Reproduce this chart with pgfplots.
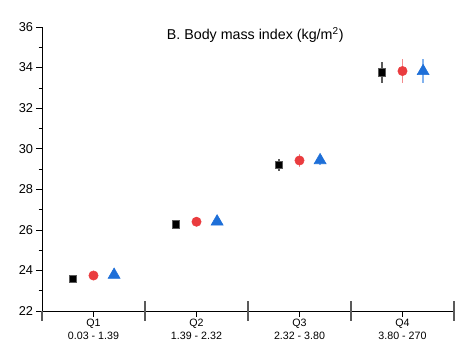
\documentclass[border=0pt]{standalone}
\usepackage{fontspec}
\setmainfont{Liberation Sans}
\usepackage{pgfplots}
\pgfplotsset{compat=1.18}
\definecolor{cred}{HTML}{EA3C3F}
\definecolor{cblue}{HTML}{1E6FD8}
\definecolor{credlt}{HTML}{F48A8C}
\definecolor{cbluelt}{HTML}{82B2EE}
\definecolor{cgray}{HTML}{5A5A5A}
\begin{document}
\begin{tikzpicture}[x=1pt,y=1pt]
\path[use as bounding box] (-31.5,-30) rectangle (318.75,233.25);
\begin{axis}[
  at={(0,0)}, anchor=south west,
  scale only axis, width=309pt, height=213pt,
  xmin=0.5, xmax=4.5, ymin=22, ymax=36,
  axis x line*=bottom, axis y line*=left,
  axis line style={black, line width=0.6pt},
  clip=false,
  /pgf/number format/assume math mode=true,
  ytick={22,24,...,36}, minor ytick={23,25,...,35},
  yticklabel style={font=\fontsize{9.6}{11}\selectfont, xshift=1pt},
  xtick={1,2,3,4},
  xticklabels={{Q1\\0.03 - 1.39},{Q2\\1.39 - 2.32},{Q3\\2.32 - 3.80},{Q4\\3.80 - 270}},
  xticklabel style={align=center, font=\fontsize{8}{9.3}\selectfont, yshift=1.5pt},
  major tick length=4.2pt, minor tick length=2.5pt,
  x tick style={black, line width=0.5pt},
  tick align=outside,
  y tick style={black, line width=0.5pt},
]
% boundary ticks drawn centred on the x axis
\addplot[cgray, line width=0.8pt, forget plot] coordinates {(1.5,21.51) (1.5,22.49)};
\addplot[cgray, line width=0.8pt, forget plot] coordinates {(2.5,21.51) (2.5,22.49)};
\addplot[cgray, line width=0.8pt, forget plot] coordinates {(3.5,21.51) (3.5,22.49)};
\addplot[cgray, line width=0.8pt, forget plot] coordinates {(4.5,21.51) (4.5,22.49)};
\addplot[cgray, line width=0.8pt, forget plot] coordinates {(0.5,21.51) (0.5,22)};
% black squares
\addplot[only marks, mark=square*, mark size=2.9pt, mark options={fill=black, draw=cgray, line width=0.5pt},
  error bars/.cd, y dir=both, y explicit, error mark=none,
  error bar style={cgray, line width=1.2pt}]
  coordinates {
  (0.8,23.58) +- (0,0.12)
  (1.8,26.28) +- (0,0.20)
  (2.8,29.20) +- (0,0.28)
  (3.8,33.75) +- (0,0.53)
  };
% red circles
\addplot[only marks, mark=*, mark size=3.5pt, mark options={fill=cred, draw=cred},
  error bars/.cd, y dir=both, y explicit, error mark=none,
  error bar style={credlt, line width=1.2pt}]
  coordinates {
  (1,23.75) +- (0,0.10)
  (2,26.40) +- (0,0.12)
  (3,29.42) +- (0,0.30)
  (4,33.83) +- (0,0.57)
  };
% blue triangles
\addplot[only marks, mark=triangle*, mark size=5.2pt, mark options={fill=cblue, draw=cblue},
  error bars/.cd, y dir=both, y explicit, error mark=none,
  error bar style={cbluelt, line width=1.2pt}]
  coordinates {
  (1.2,23.78) +- (0,0.10)
  (2.2,26.41) +- (0,0.15)
  (3.2,29.43) +- (0,0.25)
  (4.2,33.82) +- (0,0.60)
  };
\node[anchor=base, font=\fontsize{10.7}{12}\selectfont] at (axis cs:2.57,35.36) {B. Body mass index (kg/m\textsuperscript{2})};
\end{axis}
\end{tikzpicture}
\end{document}
